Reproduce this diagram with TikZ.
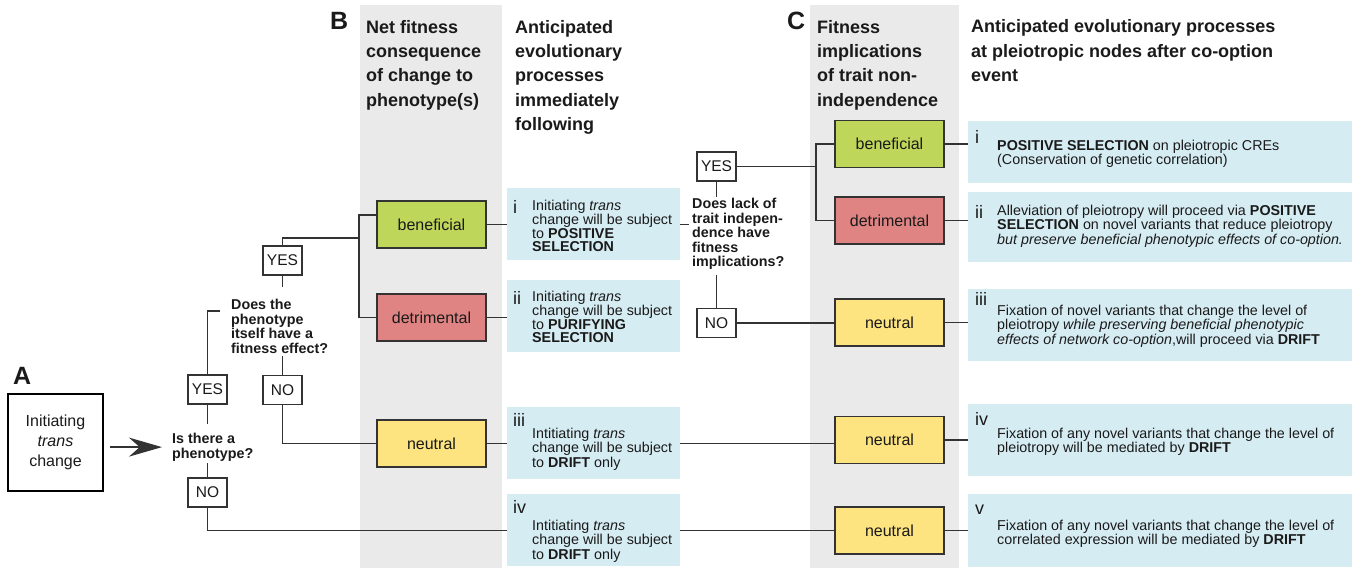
\documentclass[tikz,border=0pt]{standalone}
\usepackage{fontspec}
\setmainfont{Liberation Sans}
\usetikzlibrary{arrows.meta}
\definecolor{linec}{HTML}{333333}
\definecolor{greycol}{HTML}{EAEAEA}
\definecolor{bluecol}{HTML}{D6ECF3}
\definecolor{bencol}{HTML}{BED65A}
\definecolor{detcol}{HTML}{E08383}
\definecolor{neucol}{HTML}{FDE480}
\definecolor{textc}{HTML}{1A1A1A}
\pgfdeclarelayer{background}
\pgfdeclarelayer{lines}
\pgfsetlayers{background,lines,main}
\begin{document}
\begin{tikzpicture}[x=1pt,y=-1pt,
  every node/.style={inner sep=0pt, text=textc},
  conn/.style={draw=linec, line width=1.4pt},
  fitbox/.style={draw=linec, line width=1.4pt, minimum width=109pt, minimum height=47pt, font=\fontsize{16}{18}\selectfont},
  ben/.style={fitbox, fill=bencol},
  det/.style={fitbox, fill=detcol},
  neu/.style={fitbox, fill=neucol},
  yn/.style={draw=linec, line width=1.2pt, fill=white, minimum width=39pt, minimum height=29pt, font=\fontsize{15.5}{17}\selectfont},
  outB/.style={fill=bluecol, minimum width=173pt, minimum height=72pt, anchor=north west},
  outC/.style={fill=bluecol, minimum width=384pt, anchor=north west},
  body/.style={font=\fontsize{14.3}{13.3}\selectfont, align=left, anchor=north west},
  num/.style={font=\fontsize{18}{18}\selectfont, anchor=north west},
  head/.style={font=\bfseries\fontsize{18}{24.3}\selectfont, align=left, anchor=north west},
  quest/.style={font=\bfseries\fontsize{14.3}{14.5}\selectfont, align=left, anchor=north west},
  panel/.style={font=\bfseries\fontsize{25}{25}\selectfont, anchor=north west},
  bigarrow/.style={-{Stealth[length=33pt,width=19pt]}},
]
\useasboundingbox (0,0) rectangle (1359,568);
\begin{pgfonlayer}{background}
\fill[white] (0,0) rectangle (1359,568);
\fill[greycol] (360,5) rectangle (502,568);
\fill[greycol] (810,5) rectangle (959,568);
\end{pgfonlayer}

% Panel A
\node[panel] (labA) at (13,367) {A};
\node[draw=black, line width=2.5pt, minimum width=95pt, minimum height=97pt, align=center, font=\fontsize{16}{20}\selectfont] (init) at (55.5,442.5) {Initiating\\\textit{trans}\\change};
\node[quest] (q1) at (172,433) {Is there a\\phenotype?};
\node[yn] (yes1) at (207.5,389.5) {YES};
\node[yn] (no1) at (207.5,492.5) {NO};
\node[quest] (q2) at (231,299) {Does the\\phenotype\\itself have a\\fitness effect?};
\node[yn] (yes2) at (282.5,260.5) {YES};
\node[yn] (no2) at (282.5,390) {NO};

% Panel B
\node[panel] (labB) at (330,12) {B};
\node[head] (hB1) at (366,20) {Net fitness\\consequence\\of change to\\phenotype(s)};
\node[head] (hB2) at (515,20) {Anticipated\\evolutionary\\processes\\immediately\\following};
\node[ben] (ben1) at (431.5,224.5) {beneficial};
\node[det] (det1) at (431.5,317.5) {detrimental};
\node[neu] (neu1) at (431.5,443.5) {neutral};

\node[outB] (bi) at (507,188) {};
\node[num] (nbi) at ([xshift=6pt,yshift=-12pt]bi.north west) {i};
\node[body] (tbi) at ([xshift=25pt,yshift=-12pt]bi.north west) {Initiating \textit{trans}\\change will be subject\\to \textbf{POSITIVE}\\\textbf{SELECTION}};
\node[outB] (bii) at (507,280) {};
\node[num] (nbii) at ([xshift=6pt,yshift=-11pt]bii.north west) {ii};
\node[body] (tbii) at ([xshift=25pt,yshift=-11pt]bii.north west) {Initiating \textit{trans}\\change will be subject\\to \textbf{PURIFYING}\\\textbf{SELECTION}};
\node[outB] (biii) at (507,407) {};
\node[num] (nbiii) at ([xshift=6pt,yshift=-6pt]biii.north west) {iii};
\node[body] (tbiii) at ([xshift=25pt,yshift=-21pt]biii.north west) {Intitiating \textit{trans}\\change will be subject\\to \textbf{DRIFT} only};
\node[outB] (biv) at (507,494) {};
\node[num] (nbiv) at ([xshift=6pt,yshift=-6pt]biv.north west) {iv};
\node[body] (tbiv) at ([xshift=25pt,yshift=-26pt]biv.north west) {Intitiating \textit{trans}\\change will be subject\\to \textbf{DRIFT} only};

% Panel C
\node[quest] (q3) at (692,198) {Does lack of\\trait indepen-\\dence have\\fitness\\implications?};
\node[yn] (yes3) at (716.5,166.5) {YES};
\node[yn] (no3) at (716.5,323) {NO};

\node[panel] (labC) at (787,12) {C};
\node[head] (hC1) at (817,20) {Fitness\\implications\\of trait non-\\independence};
\node[head] (hC2) at (971,19.5) {Anticipated evolutionary processes\\at pleiotropic nodes after co-option\\event};
\node[ben] (ben2) at (889.5,144) {beneficial};
\node[det] (det2) at (889.5,220.5) {detrimental};
\node[neu] (neu3) at (889.5,322.5) {neutral};
\node[neu] (neu4) at (889.5,440) {neutral};
\node[neu] (neu5) at (889.5,530.5) {neutral};

\node[outC, minimum height=62pt] (ci) at (968,121) {};
\node[num] (nci) at ([xshift=7pt,yshift=-9pt]ci.north west) {i};
\node[body] (tci) at ([xshift=29pt,yshift=-19pt]ci.north west) {\textbf{POSITIVE SELECTION} on pleiotropic CREs\\(Conservation of genetic correlation)};
\node[outC, minimum height=70pt] (cii) at (968,192) {};
\node[num] (ncii) at ([xshift=7pt,yshift=-13pt]cii.north west) {ii};
\node[body] (tcii) at ([xshift=29pt,yshift=-13pt]cii.north west) {Alleviation of pleiotropy will proceed via \textbf{POSITIVE}\\\textbf{SELECTION} on novel variants that reduce pleiotropy\\\textit{but preserve beneficial phenotypic effects of co-option.}};
\node[outC, minimum height=72pt] (ciii) at (968,289) {};
\node[num] (nciii) at ([xshift=7pt,yshift=-3pt]ciii.north west) {iii};
\node[body] (tciii) at ([xshift=29pt,yshift=-16pt]ciii.north west) {Fixation of novel variants that change the level of\\pleiotropy \textit{while preserving beneficial phenotypic}\\\textit{effects of network co-option},will proceed via \textbf{DRIFT}};
\node[outC, minimum height=72pt] (civ) at (968,404) {};
\node[num] (nciv) at ([xshift=7pt,yshift=-8pt]civ.north west) {iv};
\node[body] (tciv) at ([xshift=29pt,yshift=-24pt]civ.north west) {Fixation of any novel variants that change the level of\\pleiotropy will be mediated by \textbf{DRIFT}};
\node[outC, minimum height=73pt] (cv) at (968,494) {};
\node[num] (ncv) at ([xshift=7pt,yshift=-11pt]cv.north west) {v};
\node[body] (tcv) at ([xshift=29pt,yshift=-26pt]cv.north west) {Fixation of any novel variants that change the level of\\correlated expression will be mediated by \textbf{DRIFT}};

\coordinate (j1) at (359,238);
\coordinate (j2) at (816,166.5);

\begin{pgfonlayer}{lines}
\draw[conn, bigarrow, shorten <=6pt, shorten >=10pt] (init.east |- q1.west) -- (q1.west);
\draw[conn] ([yshift=9pt]q1.north -| yes1.south) -- (yes1.south);
\draw[conn] ([yshift=-2pt]q1.south -| no1.north) -- (no1.north);
\draw[conn] (yes1.north) |- ([xshift=-11pt,yshift=-12pt]q2.north west);
\draw[conn] ([yshift=-3pt]q2.south -| no2.north) -- (no2.north);
\draw[conn] (no2.south) |- (neu1.west);
\draw[conn] ([yshift=12pt]q2.north -| yes2.south) -- (yes2.south);
\draw[conn] (yes2.north) |- (j1);
\draw[conn] ([yshift=9.5pt]ben1.west) -| (j1) |- (det1.west);
\draw[conn] (ben1.east) -- (ben1.east -| bi.west);
\draw[conn] (det1.east) -- (det1.east -| bii.west);
\draw[conn] (neu1.east) -- (neu1.east -| biii.west);
\draw[conn] (biii.east |- neu1.east) -- (neu1.east -| neu4.west);
\draw[conn] (no1.south) |- (biv.west);
\draw[conn] (biv.east) -- (biv.east -| neu5.west);
\draw[conn, shorten >=3pt] (bi.east) -- (bi.east -| q3.west);
\draw[conn] ([yshift=1pt]q3.north -| yes3.south) -- (yes3.south);
\draw[conn] ([yshift=-5pt]q3.south -| no3.north) -- (no3.north);
\draw[conn] (yes3.east) -- (j2);
\draw[conn] (ben2.west) -| (j2) |- (det2.west);
\draw[conn] (no3.east) -- (no3.east -| neu3.west);
\draw[conn] (ben2.east) -- (ben2.east -| ci.west);
\draw[conn] (det2.east) -- (det2.east -| cii.west);
\draw[conn] (neu3.east) -- (neu3.east -| ciii.west);
\draw[conn] (neu4.east) -- (neu4.east -| civ.west);
\draw[conn] (neu5.east) -- (neu5.east -| cv.west);
\end{pgfonlayer}
\end{tikzpicture}
\end{document}
